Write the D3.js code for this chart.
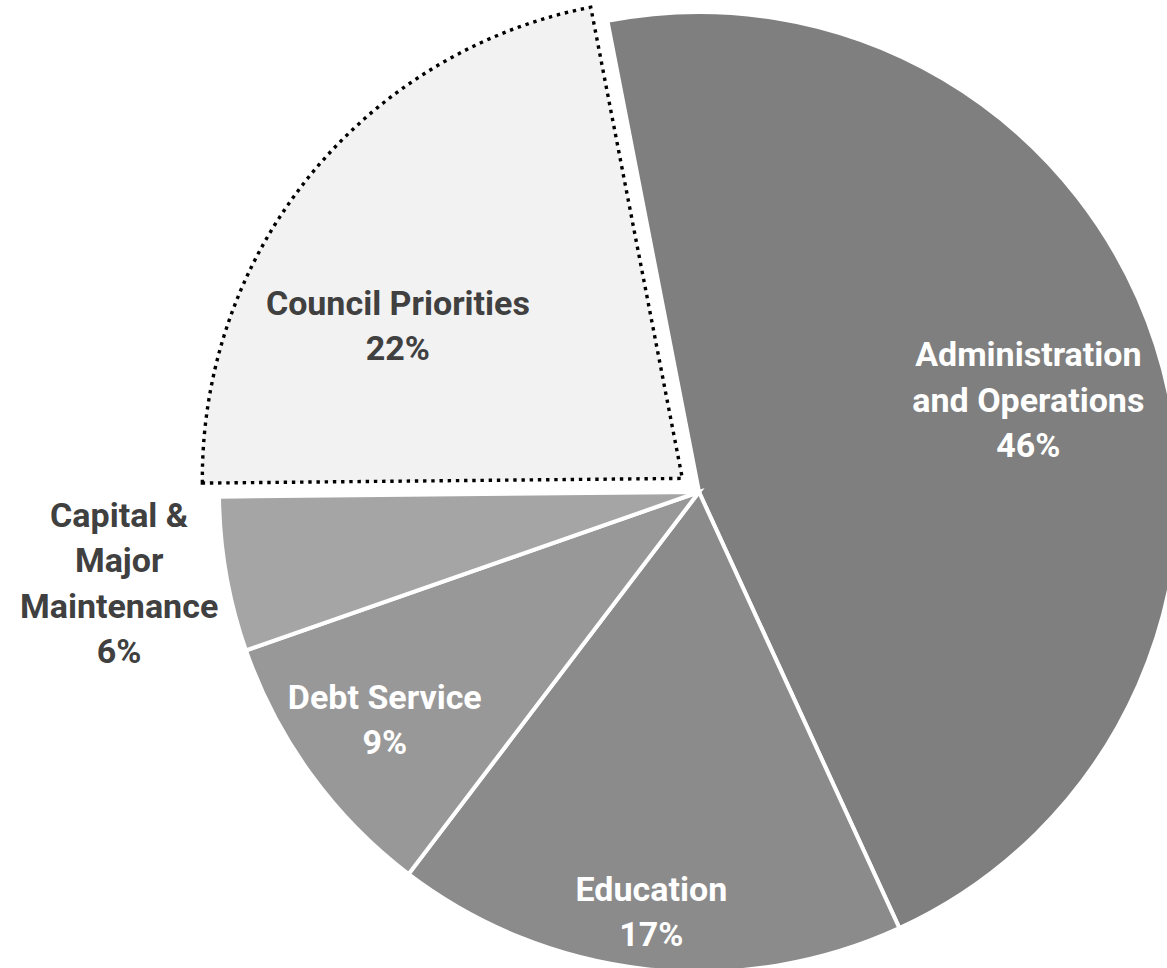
<!DOCTYPE html>
<html>
<head>
<meta charset="utf-8">
<script src="https://cdn.jsdelivr.net/npm/d3@7"></script>
<style>
  html, body { margin: 0; padding: 0; background: #ffffff; }
  svg { display: block; }
  text { font-family: Roboto, "Noto Sans", Arial, sans-serif; font-weight: 700; }
</style>
</head>
<body>
<svg id="chart" width="1167" height="968"></svg>
<script>
// ---- Data ----
const categories = ["Administration and Operations", "Education", "Debt Service", "Capital & Major Maintenance", "Council Priorities"];
const values = [46.2, 17.2, 9.3, 5.2, 22.1];
const percentLabels = ["46%", "17%", "9%", "6%", "22%"];
const labelLines = [["Administration", "and Operations"], ["Education"], ["Debt Service"], ["Capital &", "Major", "Maintenance"], ["Council Priorities"]];

// ---- Styling / layout ----
const W = 1167, H = 968;
const cx = 699, cy = 492, R = 480;
const fills = ["#7f7f7f", "#8b8b8b", "#989898", "#a5a5a5", "#f2f2f2"];
const textColors = ["#ffffff", "#ffffff", "#ffffff", "#404040", "#404040"];
const explodedIndex = 4, explode = 21.5;
// label placement: radius from centre and angular offset (deg) from slice mid-angle
const labelPlace = [
  { r: 342, da: 2.2 },
  { r: 422, da: 0.2 },
  { r: 388, da: 0.1 },
  { r: 587, da: 1.0 },
  { r: 344, da: -10.3 }
];
const fontSize = 34, lineH = 45.5;

const rad = d => d * Math.PI / 180;
const startDeg = -11;

const svg = d3.select("#chart");
const g = svg.append("g").attr("transform", `translate(${cx},${cy})`);

const pie = d3.pie().sort(null).value(d => d)
  .startAngle(rad(startDeg)).endAngle(rad(startDeg) + 2 * Math.PI);
const arcs = pie(values);
const arc = d3.arc().innerRadius(0).outerRadius(R);

g.selectAll("path.slice").data(arcs).enter().append("path")
  .attr("class", "slice")
  .attr("d", arc)
  .attr("fill", (d, i) => fills[i])
  .attr("transform", (d, i) => {
    if (i !== explodedIndex) return null;
    const m = (d.startAngle + d.endAngle) / 2;
    return `translate(${explode * Math.sin(m)},${-explode * Math.cos(m)})`;
  })
  .attr("stroke", (d, i) => i === explodedIndex ? "#000000" : "#ffffff")
  .attr("stroke-width", (d, i) => i === explodedIndex ? 3.4 : 4)
  .attr("stroke-dasharray", (d, i) => i === explodedIndex ? "3.4 4.8" : null)
  .attr("stroke-linejoin", "miter");

// labels
g.selectAll("text.lbl").data(arcs).enter().append("text")
  .attr("class", "lbl")
  .attr("text-anchor", "middle")
  .attr("font-size", fontSize)
  .attr("fill", (d, i) => textColors[i])
  .each(function (d, i) {
    const m = (d.startAngle + d.endAngle) / 2 + rad(labelPlace[i].da);
    const x = labelPlace[i].r * Math.sin(m);
    const y = -labelPlace[i].r * Math.cos(m);
    const lines = labelLines[i].concat([percentLabels[i]]);
    const n = lines.length;
    const t = d3.select(this);
    lines.forEach((ln, k) => {
      t.append("tspan")
        .attr("x", x)
        .attr("y", y + (k - (n - 1) / 2) * lineH + fontSize * 0.355)
        .text(ln);
    });
  });
</script>
</body>
</html>
